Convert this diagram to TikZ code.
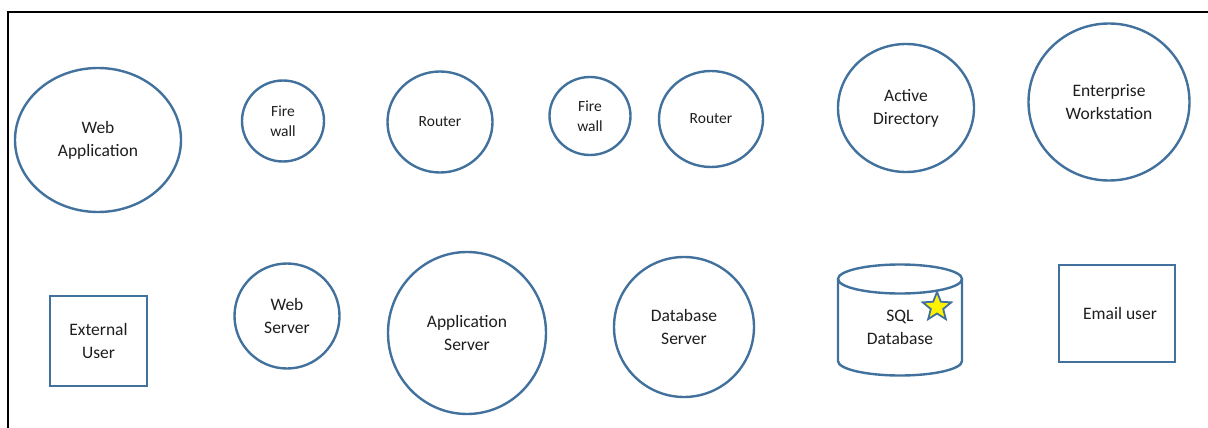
\documentclass[tikz,border=0pt]{standalone}
\usepackage{fontspec}
\setmainfont{Carlito}
\usetikzlibrary{shapes.geometric}
\definecolor{obl}{RGB}{65,113,156}
\definecolor{txt}{RGB}{30,30,30}
\begin{document}
\begin{tikzpicture}[x=1pt,y=-1pt,
  ent/.style={ellipse,draw=obl,line width=2.4pt,inner sep=0pt,align=center,text=txt,font=\fontsize{17.5}{23}\selectfont},
  sment/.style={ent,font=\fontsize{15.5}{20}\selectfont},
  boxent/.style={rectangle,draw=obl,line width=2.4pt,inner sep=0pt,align=center,text=txt,font=\fontsize{17.5}{23}\selectfont},
  lbl/.style={align=center,text=txt,inner sep=0pt,font=\fontsize{17.5}{23}\selectfont}]
\useasboundingbox (0,0) rectangle (1208,428);
% frame
\draw[line width=2pt,black] (8,428) -- (8,12) -- (1208,12);
% top row
\node[ent,minimum width=166,minimum height=144] (webapp) at (98,140) {Web\\Application};
\node[sment,minimum width=82,minimum height=81] (fw1) at (283,121) {Fire\\wall};
\node[sment,minimum width=105,minimum height=101] (r1) at (440,122) {Router};
\node[sment,minimum width=81,minimum height=78] (fw2) at (590,116) {Fire\\wall};
\node[sment,minimum width=104,minimum height=96] (r2) at (711,119) {Router};
\node[ent,minimum width=136,minimum height=128] (ad) at (906,108) {Active\\Directory};
\node[ent,minimum width=161,minimum height=157] (ew) at (1109,102) {Enterprise\\Workstation};
% bottom row
\node[boxent,minimum width=97,minimum height=90] (ext) at (98.5,341) {External\\User};
\node[ent,minimum width=105,minimum height=105] (ws) at (287,316) {Web\\Server};
\node[ent,minimum width=158,minimum height=162] (as) at (467,333) {Application\\Server};
\node[ent,minimum width=140,minimum height=140] (dbs) at (684,327) {Database\\Server};
% SQL database cylinder
\draw[obl,line width=2.4pt,fill=white] (838,279) -- (838,361) arc[start angle=180,end angle=0,x radius=62,y radius=14.5] -- (962,279);
\draw[obl,line width=2.4pt] (900,279) ellipse[x radius=62,y radius=14.5];
\node[lbl] (sql) at (900,327) {SQL\\Database};
\node[star,star points=5,star point ratio=2.3,draw=obl,line width=1.8pt,fill=yellow,minimum size=30,inner sep=0pt] (star) at (937,307) {};
\node[boxent,minimum width=116,minimum height=97] (email) at (1117,313.5) {};
\node[lbl] (emaillbl) at (1120,313) {Email user};
\end{tikzpicture}
\end{document}
